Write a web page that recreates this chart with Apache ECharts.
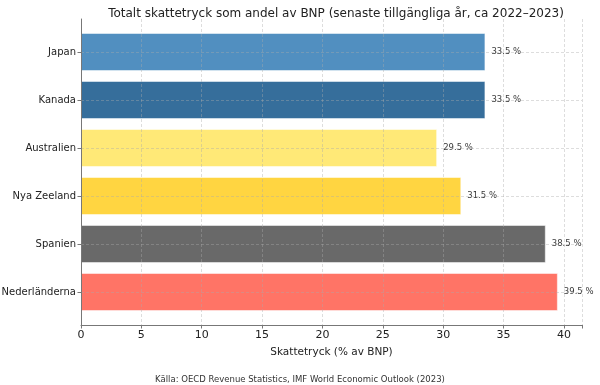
<!DOCTYPE html>
<html><head><meta charset="utf-8">
<script src="https://cdn.jsdelivr.net/npm/echarts@6/dist/echarts.min.js"></script>
<style>html,body{margin:0;padding:0;background:#fff}#c{width:600px;height:385px}</style>
</head><body><div id="c"></div>
<script>
const categories = ['Japan', 'Kanada', 'Australien', 'Nya Zeeland', 'Spanien', 'Nederländerna'];
const values = [33.5, 33.5, 29.5, 31.5, 38.5, 39.5];
const colors = ['#4B8BBE', '#306998', '#FFE873', '#FFD43B', '#646464', '#FF6F61'];
const xTicks = [0, 5, 10, 15, 20, 25, 30, 35, 40];

const font = 'DejaVu Sans';
const gridLine = {show: true, lineStyle: {color: 'rgba(170,170,170,0.5)', type: [3, 2], width: 0.8}};
const chart = echarts.init(document.getElementById('c'), null, {renderer: 'canvas'});
chart.setOption({
  animation: false,
  textStyle: {fontFamily: font},
  title: [{
    text: 'Totalt skattetryck som andel av BNP (senaste tillgängliga år, ca 2022–2023)',
    left: 331, top: 3, textAlign: 'center',
    textStyle: {fontFamily: font, fontSize: 12, fontWeight: 'normal', color: '#222'}
  }, {
    text: 'Källa: OECD Revenue Statistics, IMF World Economic Outlook (2023)',
    left: 'center', top: 370,
    textStyle: {fontFamily: font, fontSize: 8.5, fontWeight: 'normal', color: '#333'}
  }],
  grid: [
    {left: 81, right: 18, top: 19, bottom: 60, outerBoundsMode: 'none', containLabel: false},
    {left: 81, right: 18, top: 52, bottom: 93, outerBoundsMode: 'none', containLabel: false}
  ],
  xAxis: [{
    gridIndex: 0, type: 'value', min: 0, max: 41.5, interval: 5, z: 3,
    name: 'Skattetryck (% av BNP)', nameLocation: 'middle', nameGap: 22,
    nameTextStyle: {fontFamily: font, fontSize: 10.5, color: '#222'},
    axisLine: {show: true, lineStyle: {color: '#777', width: 1}},
    axisTick: {show: true, length: 3.5, lineStyle: {color: '#777'}},
    axisLabel: {fontFamily: font, fontSize: 11, color: '#222', margin: 5, customValues: xTicks},
    splitLine: gridLine
  }, {
    gridIndex: 1, type: 'value', min: 0, max: 41.5, show: false
  }],
  yAxis: [{
    gridIndex: 0, type: 'value', min: 0, max: 1, z: 3,
    axisLine: {show: true, lineStyle: {color: '#777', width: 1}},
    axisTick: {show: false}, axisLabel: {show: false}, splitLine: {show: false}
  }, {
    gridIndex: 1, type: 'category', data: categories, inverse: true, boundaryGap: false, z: 3,
    axisLine: {show: false},
    axisTick: {show: true, length: 3.5, lineStyle: {color: '#777'}},
    axisLabel: {fontFamily: font, fontSize: 10, color: '#222', margin: 5},
    splitLine: gridLine
  }],
  series: [{
    type: 'bar', xAxisIndex: 1, yAxisIndex: 1, clip: false,
    barWidth: 38,
    data: values.map((v, i) => ({value: v, itemStyle: {color: colors[i]}})),
    itemStyle: {opacity: 0.97, borderColor: 'rgba(255,255,255,0.5)', borderWidth: 1},
    label: {show: true, position: 'right', distance: 6, fontFamily: font, fontSize: 8.5, color: '#333',
      formatter: p => p.value.toFixed(1) + ' %'}
  }]
});
</script></body></html>
